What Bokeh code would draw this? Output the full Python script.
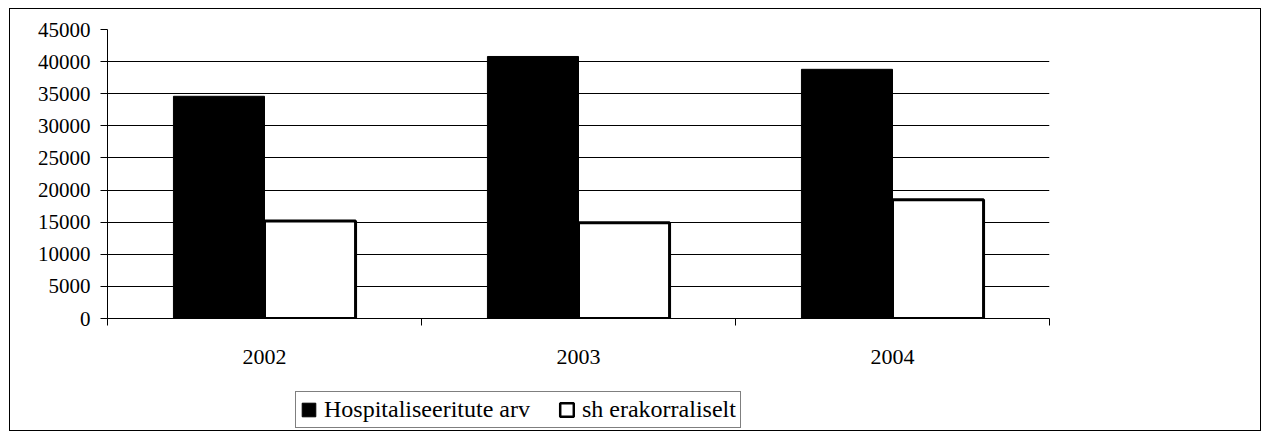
from bokeh.plotting import figure
from bokeh.layouts import column
from bokeh.models import (ColumnDataSource, Range1d, FixedTicker, Legend, LegendItem)
from bokeh.transform import dodge
from bokeh.embed import file_html
from bokeh.resources import INLINE

# ---- data ----
years = ["2002", "2003", "2004"]
hospitaliseeritute = [34600, 40800, 38800]
erakorraliselt = [15200, 14900, 18500]
series_names = ["Hospitaliseeritute arv", "sh erakorraliselt"]
y_ticks = [0, 5000, 10000, 15000, 20000, 25000, 30000, 35000, 40000, 45000]
y_tick_labels = [str(t) for t in y_ticks]

FONT = "'Liberation Serif', 'Times New Roman', serif"

pos = [i + 0.5 for i in range(len(years))]
src = ColumnDataSource(dict(x=pos, year=years, h=hospitaliseeritute, e=erakorraliselt))

fig = figure(width=1250, height=370, output_backend="svg", toolbar_location=None,
             x_range=Range1d(0, len(years)), y_range=Range1d(y_ticks[0], y_ticks[-1]),
             min_border_left=97, min_border_top=20, min_border_right=211, min_border_bottom=61,
             outline_line_color=None, background_fill_color="white", border_fill_color="white")

bw = 0.29
black_style = dict(fill_color="black", line_color="black", line_width=1)
white_style = dict(fill_color="white", line_color="black", line_width=3)
fig.vbar(x=dodge("x", -bw / 2, range=fig.x_range), top="h", width=bw, source=src, **black_style)
fig.vbar(x=dodge("x", bw / 2, range=fig.x_range), top="e", width=bw, source=src, **white_style)

# x axis: labels at category centres, tick marks at category boundaries
fig.xaxis.ticker = FixedTicker(ticks=pos, minor_ticks=list(range(len(years) + 1)))
fig.xaxis.major_label_overrides = {x: y for x, y in zip(pos, years)}
fig.xaxis.major_tick_out = 0
fig.xaxis.major_tick_in = 0
fig.xaxis.minor_tick_out = 7
fig.xaxis.minor_tick_in = 0
fig.xaxis.minor_tick_line_color = "black"
fig.xaxis.axis_line_color = "black"
fig.xaxis.major_label_standoff = 24
fig.xaxis.major_label_text_font = FONT
fig.xaxis.major_label_text_font_size = "22px"
fig.xaxis.major_label_text_color = "black"

# y axis
fig.yaxis.ticker = FixedTicker(ticks=y_ticks)
fig.yaxis.major_label_overrides = {t: l for t, l in zip(y_ticks, y_tick_labels)}
fig.yaxis.major_tick_out = 7
fig.yaxis.major_tick_in = 0
fig.yaxis.minor_tick_line_color = None
fig.yaxis.axis_line_color = "black"
fig.yaxis.major_tick_line_color = "black"
fig.yaxis.major_label_standoff = 10
fig.yaxis.major_label_text_font = FONT
fig.yaxis.major_label_text_font_size = "21px"
fig.yaxis.major_label_text_color = "black"

fig.xgrid.visible = False
fig.ygrid.ticker = FixedTicker(ticks=y_ticks[1:-1])
fig.ygrid.grid_line_color = "black"
fig.ygrid.grid_line_width = 1

# ---- legend strip below the chart ----
leg = figure(width=1250, height=51, output_backend="svg", toolbar_location=None,
             x_range=Range1d(0, 1), y_range=Range1d(0, 1), x_axis_type=None, y_axis_type=None,
             min_border=0, outline_line_color=None,
             background_fill_color="white", border_fill_color="white")
leg.xgrid.visible = False
leg.ygrid.visible = False
# placeholder rows (NaN) so that the legend swatches can be drawn; they draw no bar
dummy = ColumnDataSource(dict(x=[float("nan")], top=[float("nan")]))
l1 = leg.vbar(x="x", top="top", width=0.1, source=dummy, **black_style)
l2 = leg.vbar(x="x", top="top", width=0.1, source=dummy, line_color="black", fill_color="white",
              line_width=2.5)

legend = Legend(items=[LegendItem(label=series_names[0], renderers=[l1], index=0),
                       LegendItem(label=series_names[1], renderers=[l2], index=0)],
                orientation="horizontal", location=(188, 2),
                glyph_width=17, glyph_height=17, label_standoff=7, spacing=28,
                padding=4, margin=0,
                label_text_font=FONT, label_text_font_size="24px", label_text_color="black",
                border_line_color="black", border_line_width=1,
                background_fill_color="white", background_fill_alpha=1)
leg.add_layout(legend, "center")

p = column(fig, leg, spacing=0,
           styles={"border": "1px solid black", "margin-left": "9px", "margin-top": "8px"})

open("out.html", "w").write(file_html(p, INLINE))
